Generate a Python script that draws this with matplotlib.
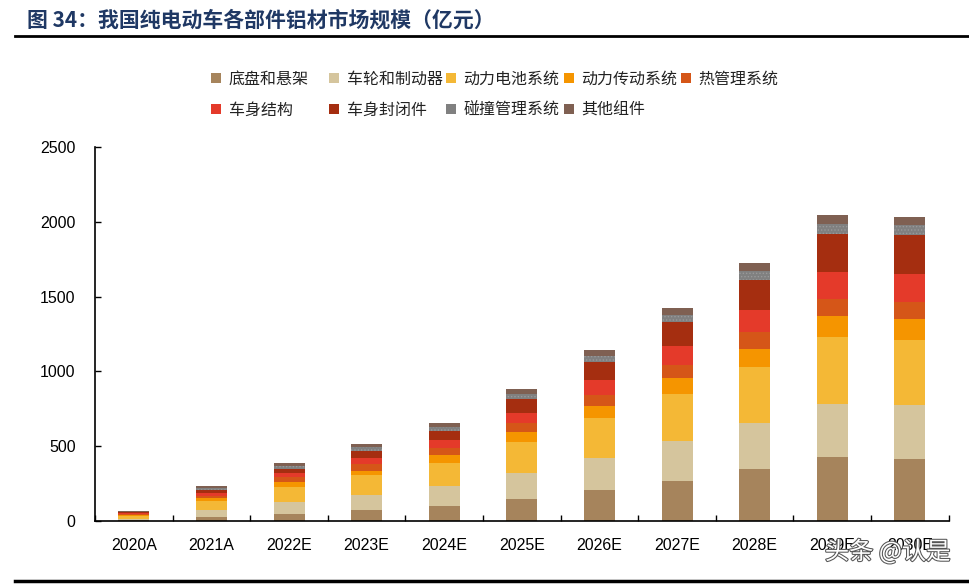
import numpy as np
import matplotlib.pyplot as plt
from matplotlib.patches import Patch
from matplotlib.lines import Line2D
import matplotlib.patheffects as pe

plt.rcParams['font.family'] = ['Liberation Sans', 'Noto Sans CJK SC', 'DejaVu Sans']
plt.rcParams['hatch.linewidth'] = 0.6

years = ['2020A', '2021A', '2022E', '2023E', '2024E', '2025E',
         '2026E', '2027E', '2028E', '2029E', '2030E']

# segment values (亿元)
chassis   = [4, 29, 49, 74, 102, 149, 209, 269, 345, 430, 417]
wheels    = [10, 47, 80, 100, 134, 172, 214, 266, 312, 354, 360]
battery   = [18, 60, 100, 133, 152, 207, 267, 316, 374, 444, 431]
drivetr   = [9, 18, 34, 27, 53, 67, 81, 107, 121, 140, 142]
thermal   = [5, 15, 29, 49, 49, 60, 74, 87, 109, 118, 112]
body      = [5, 18, 27, 40, 53, 67, 95, 123, 147, 178, 189]
closures  = [6, 20, 31, 45, 61, 93, 125, 160, 201, 252, 258]
crash     = [5, 16, 20, 24, 26, 36, 40, 49, 64, 71, 72]
others    = [5, 11, 15, 20, 25, 29, 36, 45, 52, 58, 51]

names = ['底盘和悬架', '车轮和制动器', '动力电池系统', '动力传动系统', '热管理系统',
         '车身结构', '车身封闭件', '碰撞管理系统', '其他组件']
series = [chassis, wheels, battery, drivetr, thermal, body, closures, crash, others]
colors = ['#A6845C', '#D5C59D', '#F4B836', '#F59500', '#D55618',
          '#E43A2A', '#A52E10', '#808080', '#7F6052']

fig = plt.figure(figsize=(9.7, 5.85), dpi=100)
ax = fig.add_axes([0.098, 0.1094, 0.880, 0.6393])

x = np.arange(len(years))
bottom = np.zeros(len(years))
handles = []
for name, vals, c in zip(names, series, colors):
    vals = np.array(vals, dtype=float)
    if name == '碰撞管理系统':
        ax.bar(x, vals, 0.4, bottom=bottom, color=c, edgecolor='#9a9a9a',
               hatch='.....', linewidth=0)
    else:
        ax.bar(x, vals, 0.4, bottom=bottom, color=c, linewidth=0)
    bottom += vals
    handles.append(Patch(facecolor=c, edgecolor='none', label=name))

ax.set_xlim(-0.5, len(years) - 0.5)
ax.set_ylim(0, 2500)
ax.set_yticks(np.arange(0, 2501, 500))
ax.set_xticks(x)
ax.set_xticklabels(years)
ax.set_xticks(np.arange(-0.5, len(years)), minor=True)
ax.tick_params(axis='x', which='major', length=0, labelsize=11.5, pad=12)
ax.tick_params(axis='x', which='minor', direction='in', length=4, width=1)
ax.tick_params(axis='y', direction='in', length=4, width=1, labelsize=11.5, pad=14)
for s in ['top', 'right']:
    ax.spines[s].set_visible(False)
for s in ['left', 'bottom']:
    ax.spines[s].set_linewidth(1.2)

# legend: 5 equal-width slots, two rows
col_x = [211, 329, 446, 564, 681]
for j in range(5):
    idx = [j, j + 5] if j + 5 < len(names) else [j]
    lg = fig.legend([handles[i] for i in idx], [names[i] for i in idx],
                    loc='upper left', bbox_to_anchor=(col_x[j] / 970, 0.879),
                    frameon=False, prop={'family': 'Noto Sans CJK SC', 'size': 11.5},
                    handlelength=0.6, handleheight=0.6, handletextpad=0.5,
                    labelspacing=0.88, borderpad=0, borderaxespad=0)
    for t in lg.get_texts():
        t.set_color('#222222')

# title and rules
fig.text(0.028, 0.966, '图 34：我国纯电动车各部件铝材市场规模（亿元）',
         fontsize=15, fontweight='bold', color='#1F3864', va='center',
         family=['Noto Sans CJK SC', 'DejaVu Sans'])
fig.add_artist(Line2D([0.015, 1.0], [0.939, 0.939], color='black', lw=2))
fig.add_artist(Line2D([0.015, 1.0], [0.006, 0.006], color='black', lw=2.5))

# watermark
fig.text(0.915, 0.056, '头条 @认是', fontsize=17.5, color='white',
         family=['Noto Sans CJK SC', 'DejaVu Sans'], ha='center', va='center',
         path_effects=[pe.withStroke(linewidth=1.5, foreground='#555555')])

fig.savefig('out.png', dpi=100)
